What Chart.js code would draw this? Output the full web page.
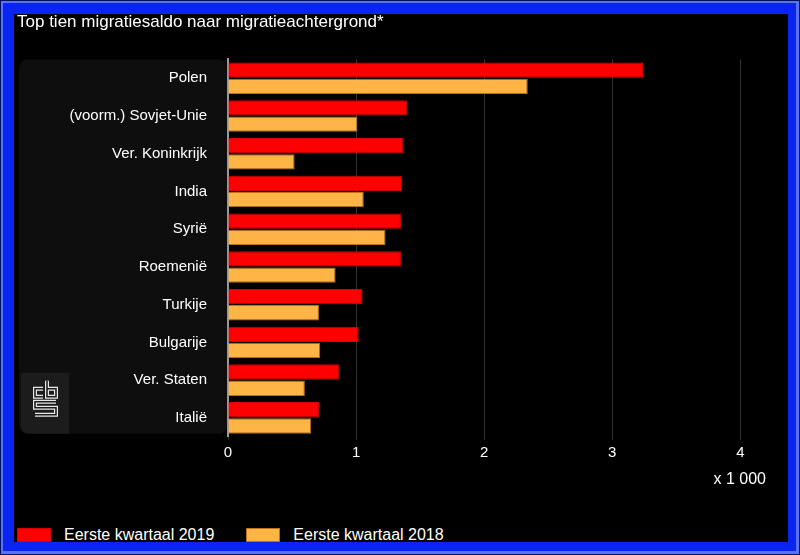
<!DOCTYPE html>
<html>
<head>
<meta charset="utf-8">
<script src="https://cdn.jsdelivr.net/npm/chart.js@4"></script>
<style>
  body { margin: 0; background: #000; }
  #frame {
    position: absolute; left: 0; top: 0; width: 800px; height: 555px;
    box-sizing: border-box; background: #0a24f2;
    border: 1px solid #00105a;
    box-shadow: inset 2px 2px 0 #5672ff, inset -3px -3px 0 #5672ff;
  }
  #inner {
    position: absolute; left: 13px; top: 13px; width: 774px; height: 528px;
    background: #000; overflow: hidden;
  }
  #mainChart { position: absolute; left: 0; top: -2px; }
  #legend {
    position: absolute; left: 3px; top: 512px; display: flex;
    font: 16px "Liberation Sans", Arial, sans-serif; color: #fff;
  }
  .legend-item { display: flex; align-items: center; margin-right: 32px; }
  .legend-box { width: 34px; height: 14px; box-sizing: border-box; margin-right: 13px; }
</style>
</head>
<body>
<div id="frame">
  <div id="inner">
    <canvas id="mainChart" width="774" height="477"></canvas>
    <div id="legend"></div>
  </div>
</div>
<script>
const categories = ['Polen', '(voorm.) Sovjet-Unie', 'Ver. Koninkrijk', 'India', 'Syrië',
  'Roemenië', 'Turkije', 'Bulgarije', 'Ver. Staten', 'Italië'];
const values2019 = [3.24, 1.40, 1.37, 1.36, 1.35, 1.35, 1.05, 1.02, 0.87, 0.71];
const values2018 = [2.34, 1.01, 0.52, 1.06, 1.23, 0.84, 0.71, 0.72, 0.60, 0.65];
const xTicks = [0, 1, 2, 3, 4];
const seriesLabels = ['Eerste kwartaal 2019', 'Eerste kwartaal 2018'];

const font = '"Liberation Sans", Arial, sans-serif';
const ctx = document.getElementById('mainChart').getContext('2d');

// dark label panel on the left with the cbs logo
const panelPlugin = {
  id: 'panel',
  beforeDraw(chart) {
    const c = chart.ctx;
    const area = chart.chartArea;
    const top = area.bottom - 3 - 61;
    c.save();
    c.fillStyle = '#0e0e0e';
    c.beginPath();
    c.roundRect(5, area.top, area.left - 6, area.bottom - area.top - 3, 8);
    c.fill();

    c.fillStyle = '#1c1c1c';
    c.beginPath();
    c.roundRect(7, top, 48, 61, [0, 0, 0, 8]);
    c.fill();

    const logo = () => {
      c.beginPath();
      c.moveTo(29, top + 16); c.lineTo(21, top + 16); c.lineTo(21, top + 24); c.lineTo(29, top + 24);
      c.moveTo(33, top + 8); c.lineTo(33, top + 24); c.lineTo(42, top + 24);
      c.lineTo(42, top + 16); c.lineTo(33, top + 16);
      c.moveTo(42, top + 29); c.lineTo(21, top + 29); c.lineTo(21, top + 35); c.lineTo(42, top + 35);
      c.lineTo(42, top + 42); c.lineTo(21, top + 42);
      c.stroke();
    };
    c.lineJoin = 'miter';
    c.strokeStyle = '#e8e8e8';
    c.lineWidth = 4;
    logo();
    c.strokeStyle = '#1c1c1c';
    c.lineWidth = 1.6;
    logo();
    c.restore();
  },
};

const mainChart = new Chart(ctx, {
  type: 'bar',
  data: {
    labels: categories,
    datasets: [
      {
        label: seriesLabels[0],
        data: values2019,
        backgroundColor: '#ff0000',
        borderColor: '#d80000',
        borderWidth: 1,
      },
      {
        label: seriesLabels[1],
        data: values2018,
        backgroundColor: '#ffb446',
        borderColor: '#b8701c',
        borderWidth: 1,
      },
    ],
  },
  options: {
    indexAxis: 'y',
    responsive: false,
    animation: false,
    devicePixelRatio: 1,
    categoryPercentage: 0.86,
    barPercentage: 0.95,
    layout: { padding: { left: 3, right: 22, top: 0, bottom: 0 } },
    plugins: {
      legend: { display: false },
      tooltip: { enabled: false },
      title: {
        display: true,
        text: 'Top tien migratiesaldo naar migratieachtergrond*',
        align: 'start',
        color: '#ffffff',
        font: { family: font, size: 17, weight: 'normal' },
        padding: { top: 0, bottom: 27 },
      },
    },
    scales: {
      x: {
        min: 0,
        max: 4.2,
        afterBuildTicks: (scale) => {
          scale.ticks = xTicks.map((v) => ({ value: v }));
        },
        ticks: {
          color: '#ffffff',
          font: { family: font, size: 15 },
          padding: 4,
        },
        grid: { color: '#333333', tickLength: 3 },
        border: { display: false },
        title: {
          display: true,
          text: 'x 1 000',
          align: 'end',
          color: '#ffffff',
          font: { family: font, size: 16 },
          padding: { top: 4, bottom: 0 },
        },
      },
      y: {
        afterFit: (scale) => { scale.width = 211; },
        ticks: {
          color: '#ffffff',
          font: { family: font, size: 15 },
          padding: 13,
        },
        grid: { display: false },
        border: { color: '#999999', width: 2 },
      },
    },
  },
  plugins: [panelPlugin],
});

const legendEl = document.getElementById('legend');
mainChart.data.datasets.forEach((ds) => {
  const item = document.createElement('div');
  item.className = 'legend-item';
  const box = document.createElement('span');
  box.className = 'legend-box';
  box.style.background = ds.backgroundColor;
  box.style.border = '1px solid ' + ds.borderColor;
  const text = document.createElement('span');
  text.textContent = ds.label;
  item.appendChild(box);
  item.appendChild(text);
  legendEl.appendChild(item);
});
</script>
</body>
</html>
